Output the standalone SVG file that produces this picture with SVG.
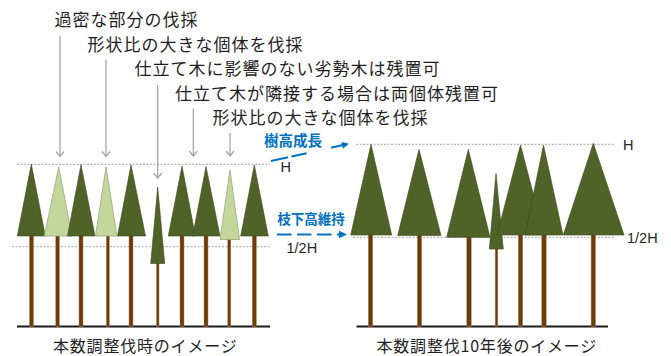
<svg xmlns="http://www.w3.org/2000/svg" width="671" height="356" viewBox="0 0 671 356">
  <defs>
    <style>
      .jp { font-family: "Noto Sans CJK JP", "Noto Sans CJK SC", sans-serif; fill: #1f1f1f; }
      .note { font-size: 17px; letter-spacing: 1px; }
      .cap { font-size: 16px; letter-spacing: 0.8px; }
      .blue { font-family: "Noto Sans CJK JP", sans-serif; font-weight: bold; fill: #0070c0; }
      .lbl { font-family: "Liberation Sans", Arial, sans-serif; font-size: 14.5px; fill: #262626; }
      .dot { stroke: #a6a6a6; stroke-width: 1; stroke-dasharray: 2 1.5; fill: none; }
      .ground { stroke: #1a1a1a; stroke-width: 2; }
      .trunk { fill: #6b3a0d; stroke: #b08358; stroke-width: 0.5; }
      .dark { fill: #4f6228; stroke: #3b4a1d; stroke-width: 0.6; }
      .light { fill: #c3d69b; stroke: #98a882; stroke-width: 0.8; }
      .pointer { stroke: #a6a6a6; stroke-width: 1.3; fill: none; }
      .bdash { stroke: #0070c0; stroke-width: 2; fill: none; }
    </style>
    <!-- open chevron head for the grey pointers (drawn along +x) -->
    <marker id="chev" viewBox="0 0 10 10" refX="9" refY="5" markerWidth="10" markerHeight="10" markerUnits="userSpaceOnUse" orient="auto">
      <path d="M4,1 L9,5 L4,9" fill="none" stroke="#a6a6a6" stroke-width="1.3"/>
    </marker>
  </defs>

  <rect width="671" height="356" fill="#ffffff"/>

  <!-- thinning notes -->
  <g id="notes">
    <text class="jp note" x="54.5" y="26">過密な部分の伐採</text>
    <text class="jp note" x="87.5" y="50.5">形状比の大きな個体を伐採</text>
    <text class="jp note" x="134.5" y="75">仕立て木に影響のない劣勢木は残置可</text>
    <text class="jp note" x="175" y="99.5">仕立て木が隣接する場合は両個体残置可</text>
    <text class="jp note" x="212.5" y="124">形状比の大きな個体を伐採</text>
  </g>

  <!-- reference lines -->
  <g id="guides">
    <line class="dot" x1="17" y1="164.3" x2="270" y2="164.3"/>
    <line class="dot" x1="12" y1="246.7" x2="270" y2="246.7"/>
    <line class="dot" x1="356" y1="144.3" x2="615" y2="144.3"/>
    <line class="dot" x1="353" y1="237.3" x2="615" y2="237.3"/>
    <line class="ground" x1="17" y1="326.5" x2="270" y2="326.5"/>
    <line class="ground" x1="356.5" y1="326.5" x2="608" y2="326.5"/>
    <text class="lbl" x="280.5" y="171.7">H</text>
    <text class="lbl" x="286.5" y="253.3">1/2H</text>
    <text class="lbl" x="623" y="150">H</text>
    <text class="lbl" x="627" y="243.3">1/2H</text>
  </g>

  <!-- stand at the time of thinning -->
  <g id="stand-before">
    <rect class="trunk" x="29.5" y="230" width="4" height="96.5"/>
    <rect class="trunk" x="55.8" y="230" width="3.6" height="96.5"/>
    <rect class="trunk" x="79" y="230" width="4" height="96.5"/>
    <rect class="trunk" x="106.3" y="230" width="3" height="96.5"/>
    <rect class="trunk" x="129" y="230" width="4" height="96.5"/>
    <rect class="trunk" x="156.5" y="258" width="2.5" height="68.5"/>
    <rect class="trunk" x="180" y="230" width="4" height="96.5"/>
    <rect class="trunk" x="204" y="230" width="4" height="96.5"/>
    <rect class="trunk" x="227.8" y="234" width="3" height="92.5"/>
    <rect class="trunk" x="252.3" y="230" width="4" height="96.5"/>
    <polygon class="dark" points="31.3,164 17.3,236 45.3,236"/>
    <polygon class="light" points="58.7,167 44.3,236 72,236"/>
    <polygon class="dark" points="81,164.7 67.5,236 95,236"/>
    <polygon class="light" points="106,167 95.5,236 117,236"/>
    <polygon class="dark" points="131,165 117.5,236 145.5,236"/>
    <polygon class="dark" points="157.7,187 150.7,263.5 164.7,263.5"/>
    <polygon class="dark" points="182,166 168.3,236 195.3,236"/>
    <polygon class="dark" points="206,166.5 192.7,236 220,236"/>
    <polygon class="light" points="230,170 220,239.5 239.5,239.5"/>
    <polygon class="dark" points="254.3,165 240.7,236 268.3,236"/>
  </g>

  <!-- stand ten years later -->
  <g id="stand-after">
    <rect class="trunk" x="368.3" y="230" width="4.4" height="96.5"/>
    <rect class="trunk" x="417.3" y="230" width="4.4" height="96.5"/>
    <rect class="trunk" x="466.8" y="232" width="4.4" height="94.5"/>
    <rect class="trunk" x="495.2" y="244" width="2.6" height="82.5"/>
    <rect class="trunk" x="518.3" y="230" width="4.4" height="96.5"/>
    <rect class="trunk" x="541.8" y="230" width="4.4" height="96.5"/>
    <rect class="trunk" x="591.1" y="230" width="4.4" height="96.5"/>
    <polygon class="dark" points="371,144.3 350.7,235 391.7,235"/>
    <polygon class="dark" points="419,149.3 397.7,235.5 441,235.5"/>
    <polygon class="dark" points="468.3,149.3 446.7,237.3 490,237.3"/>
    <polygon class="dark" points="496,173.3 489.3,249 503.3,249"/>
    <polygon class="dark" points="520.5,145 497,235 544,235"/>
    <polygon class="dark" points="543.5,145 525,235 563,235"/>
    <polygon class="dark" points="593.3,143.3 563.3,235 624,235"/>
  </g>

  <!-- connectors -->
  <g id="connectors">
    <line class="pointer" x1="60" y1="36" x2="60" y2="156.5" marker-end="url(#chev)"/>
    <line class="pointer" x1="106" y1="59.5" x2="106" y2="156.5" marker-end="url(#chev)"/>
    <line class="pointer" x1="157.7" y1="85" x2="157.7" y2="178" marker-end="url(#chev)"/>
    <line class="pointer" x1="193.3" y1="108.5" x2="193.3" y2="156" marker-end="url(#chev)"/>
    <line class="pointer" x1="230" y1="133" x2="230" y2="156" marker-end="url(#chev)"/>

    <!-- height growth -->
    <line class="bdash" x1="271" y1="161" x2="288" y2="157.3"/>
    <line class="bdash" x1="291.5" y1="156.5" x2="306.5" y2="153.2"/>
    <line class="bdash" x1="331" y1="147.7" x2="343" y2="145.1"/>
    <polygon fill="#0070c0" points="349,143.7 341.4,142 342.9,148.8"/>

    <!-- crown base height kept -->
    <line class="bdash" x1="277" y1="234.5" x2="340" y2="234.5" stroke-dasharray="14.5 5.5"/>
    <polygon fill="#0070c0" points="347,234.5 339,230.8 339,238.2"/>
  </g>

  <g id="blue-labels">
    <text class="blue" x="264" y="145.5" font-size="14.5">樹高成長</text>
    <text class="blue" x="277.3" y="224" font-size="13.5">枝下高維持</text>
  </g>

  <g id="captions">
    <text class="jp cap" x="53" y="352">本数調整伐時のイメージ</text>
    <text class="jp cap" x="376.5" y="352">本数調整伐10年後のイメージ</text>
  </g>
</svg>
